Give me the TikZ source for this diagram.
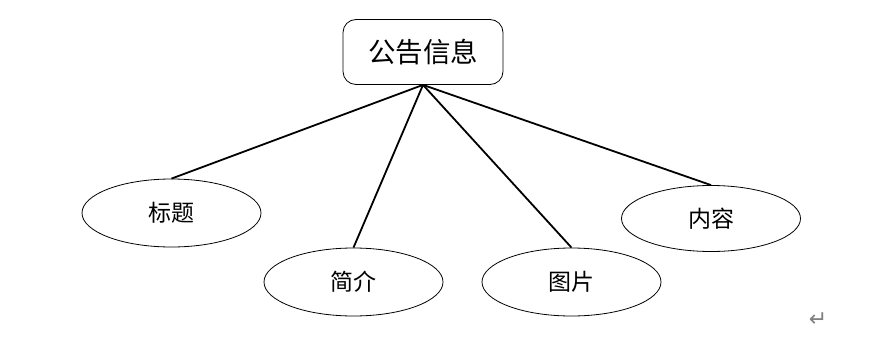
\documentclass[tikz,border=0pt]{standalone}
\usepackage{fontspec}
\newfontfamily\cjk{Noto Sans CJK SC}
\newfontfamily\symfont{DejaVu Sans}
\usepackage{tikz}
\usetikzlibrary{shapes.geometric}

\begin{document}
\begin{tikzpicture}[x=1pt,y=-1pt,
        attr/.style={draw,ellipse,line width=0.8pt,minimum width=179pt,minimum height=68pt,inner sep=0pt,font=\cjk\fontsize{23}{23}\selectfont},
        entity/.style={draw,rounded corners=13pt,line width=0.8pt,minimum width=160pt,minimum height=65pt,inner sep=0pt,font=\cjk\fontsize{27.5}{27.5}\selectfont},
        link/.style={line width=1.8pt}]
        \useasboundingbox (0,0) rectangle (893,342);
        \node[entity] (info) at (423,52) {公告信息};
        \node[attr] (title) at (171.5,213) {标题};
        \node[attr] (intro) at (353.5,282) {简介};
        \node[attr] (pic) at (571.5,282) {图片};
        \node[attr,minimum height=66pt] (body) at (711,218.5) {内容};
        \draw[link] (info.south) -- (title.north);
        \draw[link] (info.south) -- (intro.north);
        \draw[link] (info.south) -- (pic.north);
        \draw[link] (info.south) -- (body.north);
        \node[text=gray,font=\symfont\fontsize{22}{22}\selectfont] (ret) at (818,320) {↵};
        \end{tikzpicture}
\end{document}
